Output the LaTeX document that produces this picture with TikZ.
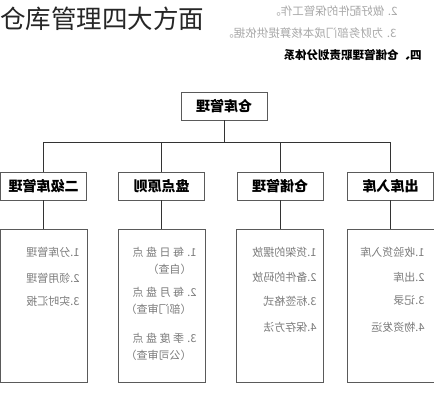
\documentclass[tikz,border=0pt]{standalone}
\usepackage{graphicx}
\usepackage{xcolor}
\usepackage{fontspec}
\newfontfamily\cjk{Noto Sans CJK SC}
\definecolor{framegray}{HTML}{5A5A5A}
\definecolor{itemgray}{HTML}{7A7A7A}
\definecolor{notegray}{HTML}{A8A8A8}
\newcommand{\mirr}[1]{\reflectbox{#1}}
\tikzset{
  headbox/.style={draw=framegray,line width=0.8pt,minimum width=86,minimum height=28,inner sep=0pt,font=\cjk\bfseries\fontsize{14}{14}\selectfont},
  listbox/.style={draw=framegray,line width=0.8pt,minimum width=87,minimum height=153,inner sep=0pt},
  item/.style={anchor=east,inner sep=0pt,text=itemgray,font=\cjk\fontsize{11}{11}\selectfont},
  note/.style={anchor=east,inner sep=0pt,text=notegray,font=\cjk\fontsize{11.5}{11.5}\selectfont},
}

\begin{document}
\begin{tikzpicture}[x=1pt,y=1pt,line width=1pt]
\useasboundingbox (0,0) rectangle (434,400);

% title and page text
\node[anchor=west,inner sep=0pt,text=black!85,font=\cjk\fontsize{25.5}{25.5}\selectfont] (title) at (0,381) {仓库管理四大方面};
\node[note] (note2) at (398,389) {\mirr{2. 做好配件的保管工作。}};
\node[note] (note3) at (397,367) {\mirr{3. 为财务部门成本核算提供依据。}};
\node[anchor=east,inner sep=0pt,font=\cjk\bfseries\fontsize{11.5}{11.5}\selectfont] (part4) at (422,345) {\mirr{四、仓储管理职责划分体系}};

% root
\node[headbox] (top) at (224,294) {\mirr{仓库管理}};
\coordinate (bus) at ([yshift=-22]top.south);

% four sections
\node[headbox] (h1) at (43.5,214) {\mirr{二级库管理}};
\node[headbox] (h2) at (161.5,214) {\mirr{盘点原则}};
\node[headbox] (h3) at (280,214) {\mirr{仓储管理}};
\node[headbox] (h4) at (390.5,214) {\mirr{出库入库}};

\draw[black!80] (top) -- (bus);
\draw[black!80] (bus) -| (h1);
\draw[black!80] (bus) -| (h2);
\draw[black!80] (bus) -| (h3);
\draw[black!80] (bus) -| (h4);

% lists
\node[listbox] (l1) at (43.5,94.5) {};
\node[listbox] (l2) at (161.5,94.5) {};
\node[listbox] (l3) at (280,94.5) {};
\node[listbox] (l4) at (390.5,94.5) {};

\draw[black!80] (h1) -- (l1);
\draw[black!80] (h2) -- (l2);
\draw[black!80] (h3) -- (l3);
\draw[black!80] (h4) -- (l4);

% list 1
\node[item] (a1) at (80,148) {\mirr{1.分库管理}};
\node[item] (a2) at (80,122) {\mirr{2.领用管理}};
\node[item] (a3) at (80,99) {\mirr{3.实时汇报}};

% list 2
\node[item] (b1) at (197,148) {\mirr{1. 每 日 盘 点}};
\node[item] (b1n) at (192,131) {\mirr{（自查）}};
\node[item] (b2) at (197,108) {\mirr{2. 每 月 盘 点}};
\node[item] (b2n) at (192,91) {\mirr{（部门审查）}};
\node[item] (b3) at (197,62) {\mirr{3. 季 度 盘 点}};
\node[item] (b3n) at (192,45) {\mirr{（公司审查）}};

% list 3
\node[item] (c1) at (317,148) {\mirr{1.货架的摆放}};
\node[item] (c2) at (317,123) {\mirr{2.备件的码放}};
\node[item] (c3) at (317,99) {\mirr{3.标签格式}};
\node[item] (c4) at (317,73) {\mirr{4.保存方法}};

% list 4
\node[item] (d1) at (425,148) {\mirr{1.收验货入库}};
\node[item] (d2) at (425,123) {\mirr{2.出库}};
\node[item] (d3) at (425,100) {\mirr{3.记录}};
\node[item] (d4) at (425,73) {\mirr{4.物资发运}};

\end{tikzpicture}
\end{document}
